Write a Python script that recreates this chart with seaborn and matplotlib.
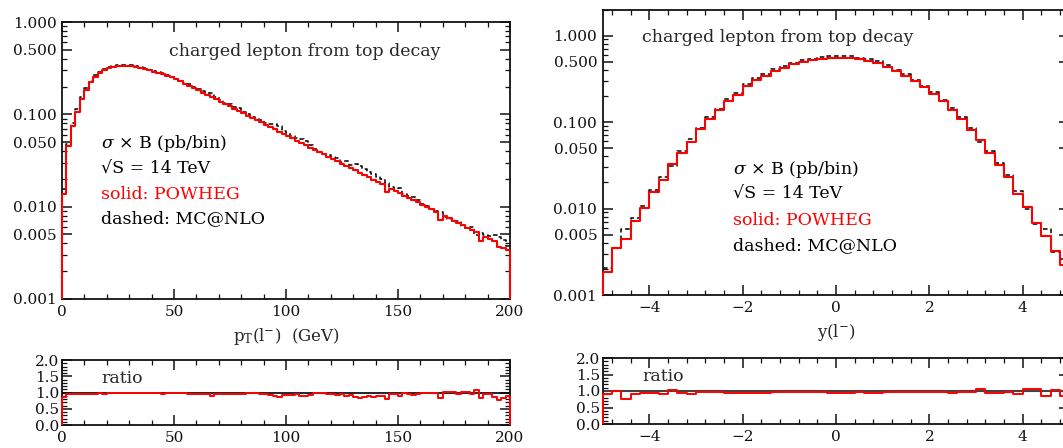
import numpy as np
import pandas as pd
import matplotlib
matplotlib.use("Agg")
import matplotlib.pyplot as plt
import seaborn as sns
from matplotlib.ticker import FixedLocator, FixedFormatter, MultipleLocator, LogLocator, NullFormatter

# ---------------- data ----------------
pt_edges = list(range(0, 202, 2))          # 100 bins of 2 GeV
pt_powheg = [0.0137, 0.0457, 0.0748, 0.107, 0.147, 0.184, 0.222, 0.256, 0.280, 0.300,
             0.315, 0.326, 0.333, 0.336, 0.336, 0.333, 0.324, 0.316, 0.308, 0.299,
             0.290, 0.281, 0.272, 0.262, 0.251, 0.242, 0.228, 0.215, 0.204, 0.192,
             0.182, 0.171, 0.162, 0.153, 0.145, 0.136, 0.129, 0.122, 0.115, 0.109,
             0.103, 0.0970, 0.0916, 0.0865, 0.0817, 0.0771, 0.0729, 0.0689, 0.0650, 0.0614,
             0.0581, 0.0548, 0.0518, 0.0489, 0.0462, 0.0437, 0.0412, 0.0389, 0.0368, 0.0348,
             0.0328, 0.0310, 0.0293, 0.0277, 0.0261, 0.0247, 0.0233, 0.0220, 0.0208, 0.0196,
             0.0186, 0.0175, 0.0145, 0.0156, 0.0148, 0.0140, 0.0132, 0.0125, 0.0118, 0.0111,
             0.0105, 0.00991, 0.00937, 0.00885, 0.00720, 0.00789, 0.00746, 0.00705, 0.00665, 0.00629,
             0.00594, 0.00561, 0.00530, 0.00430, 0.00473, 0.00447, 0.00422, 0.00370, 0.00360, 0.00340]
pt_mcnlo = [0.0157, 0.0481, 0.0796, 0.113, 0.155, 0.192, 0.231, 0.267, 0.289, 0.313,
            0.325, 0.336, 0.343, 0.346, 0.346, 0.343, 0.331, 0.322, 0.314, 0.305,
            0.293, 0.287, 0.283, 0.270, 0.256, 0.244, 0.230, 0.217, 0.213, 0.200,
            0.190, 0.178, 0.171, 0.170, 0.154, 0.142, 0.134, 0.128, 0.120, 0.116,
            0.107, 0.100, 0.0925, 0.0883, 0.0860, 0.0812, 0.0784, 0.0783, 0.0747, 0.0667,
            0.0625, 0.0589, 0.0551, 0.0543, 0.0513, 0.0470, 0.0425, 0.0393, 0.0376, 0.0363,
            0.0349, 0.0333, 0.0308, 0.0311, 0.0284, 0.0287, 0.0277, 0.0253, 0.0236, 0.0225,
            0.0207, 0.0199, 0.0181, 0.0163, 0.0154, 0.0159, 0.0136, 0.0130, 0.0127, 0.0117,
            0.0106, 0.0101, 0.00946, 0.00894, 0.00880, 0.00766, 0.00731, 0.00684, 0.00693, 0.00623,
            0.00582, 0.00597, 0.00495, 0.00524, 0.00498, 0.00476, 0.00496, 0.00474, 0.00439, 0.00378]
pt_ratio = [0.87, 0.95, 0.94, 0.95, 0.95, 0.96, 0.96, 0.96, 0.97, 0.96,
            0.97, 0.97, 0.97, 0.97, 0.97, 0.97, 0.98, 0.98, 0.98, 0.98,
            0.99, 0.98, 0.96, 0.97, 0.98, 0.99, 0.99, 0.99, 0.96, 0.96,
            0.96, 0.96, 0.95, 0.90, 0.94, 0.96, 0.96, 0.95, 0.96, 0.94,
            0.96, 0.97, 0.99, 0.98, 0.95, 0.95, 0.93, 0.88, 0.87, 0.92,
            0.93, 0.93, 0.94, 0.90, 0.90, 0.93, 0.97, 0.99, 0.98, 0.96,
            0.94, 0.93, 0.95, 0.89, 0.92, 0.86, 0.84, 0.87, 0.88, 0.87,
            0.90, 0.88, 0.80, 0.96, 0.96, 0.88, 0.97, 0.96, 0.93, 0.95,
            0.99, 0.98, 0.99, 0.99, 0.82, 1.03, 1.02, 1.03, 0.96, 1.01,
            1.02, 0.94, 1.07, 0.82, 0.95, 0.94, 0.85, 0.78, 0.82, 0.90]

y_edges = [round(-5.0 + 0.2 * i, 1) for i in range(51)]   # 50 bins of 0.2
y_powheg = [0.00186, 0.00348, 0.00446, 0.00720, 0.0101, 0.0154, 0.0211, 0.0327, 0.0438, 0.0586,
            0.0830, 0.108, 0.136, 0.175, 0.207, 0.261, 0.303, 0.344, 0.390, 0.423,
            0.466, 0.495, 0.522, 0.542, 0.546, 0.546, 0.544, 0.530, 0.509, 0.483,
            0.434, 0.386, 0.344, 0.299, 0.255, 0.213, 0.175, 0.136, 0.108, 0.0815,
            0.0624, 0.0438, 0.0315, 0.0231, 0.0148, 0.0105, 0.00688, 0.00483, 0.00326, 0.00222]
y_mcnlo = [0.00207, 0.00348, 0.00587, 0.00783, 0.0106, 0.0164, 0.0232, 0.0314, 0.0461, 0.0644,
           0.0847, 0.113, 0.142, 0.184, 0.218, 0.275, 0.326, 0.362, 0.406, 0.441,
           0.485, 0.516, 0.538, 0.565, 0.575, 0.575, 0.573, 0.552, 0.536, 0.508,
           0.452, 0.402, 0.358, 0.308, 0.263, 0.220, 0.182, 0.146, 0.113, 0.0849,
           0.0594, 0.0461, 0.0339, 0.0241, 0.0161, 0.0100, 0.00655, 0.00575, 0.00317, 0.00264]
y_ratio = [0.90, 1.00, 0.76, 0.92, 0.95, 0.94, 0.91, 1.04, 0.95, 0.91,
           0.98, 0.96, 0.96, 0.95, 0.95, 0.95, 0.93, 0.95, 0.96, 0.96,
           0.96, 0.96, 0.97, 0.96, 0.95, 0.95, 0.95, 0.96, 0.95, 0.95,
           0.96, 0.96, 0.96, 0.97, 0.97, 0.97, 0.96, 0.93, 0.96, 0.96,
           1.05, 0.95, 0.93, 0.96, 0.92, 1.05, 1.05, 0.84, 1.03, 0.84]

log_ticks = [0.001, 0.005, 0.010, 0.050, 0.100, 0.500, 1.000]
log_labels = ["0.001", "0.005", "0.010", "0.050", "0.100", "0.500", "1.000"]
ratio_ticks = [0.0, 0.5, 1.0, 1.5, 2.0]
ratio_labels = ["0.0", "0.5", "1.0", "1.5", "2.0"]
pt_xticks = [0, 50, 100, 150, 200]
y_xticks = [-4, -2, 0, 2, 4]
y_xlabels = ["\u22124", "\u22122", "0", "2", "4"]

# ---------------- style ----------------
sns.set_theme(style="ticks")
plt.rcParams["font.family"] = ["DejaVu Serif"]
plt.rcParams["mathtext.fontset"] = "dejavuserif"
plt.rcParams["axes.linewidth"] = 1.3
plt.rcParams["axes.edgecolor"] = "#111111"

W, H = 1063, 448
fig = plt.figure(figsize=(W / 100, H / 100), dpi=100)

def frac(x0, y0, x1, y1):
    return [x0 / W, 1 - y1 / H, (x1 - x0) / W, (y1 - y0) / H]

ax1 = fig.add_axes(frac(62, 22, 510, 299))
ax1r = fig.add_axes(frac(62, 360, 510, 425))
ax2 = fig.add_axes(frac(602.7, 9.5, 1069.3, 295))
ax2r = fig.add_axes(frac(602.7, 358, 1069.3, 424))

FS = 11
TFS = 12.5
dash = (0, (3, 2))

def steps(ax, edges, vals, color, ls, lw, z, base=None):
    centers = [(a + b) / 2 for a, b in zip(edges[:-1], edges[1:])]
    df = pd.DataFrame({"c": centers, "w": vals})
    sns.histplot(data=df, x="c", weights="w", bins=edges, element="step", fill=False,
                 color=color, linestyle=ls, linewidth=lw, ax=ax, zorder=z)
    if base is not None:
        ax.vlines([edges[0], edges[-1]], base, [vals[0], vals[-1]], color=color,
                  linewidth=lw, zorder=z, clip_on=False)

def style_main(ax):
    ax.set_yscale("log")
    ax.yaxis.set_major_locator(FixedLocator(log_ticks))
    ax.yaxis.set_major_formatter(FixedFormatter(log_labels))
    ax.yaxis.set_minor_locator(LogLocator(base=10, subs=np.arange(2, 10)))
    ax.yaxis.set_minor_formatter(NullFormatter())

def style_common(ax):
    ax.tick_params(which="both", direction="in", top=True, right=True,
                   labelsize=FS, colors="#111111")
    ax.tick_params(which="major", length=7, width=1.1, pad=4)
    ax.tick_params(which="minor", length=3.5, width=0.9)
    ax.set_xlabel("")
    ax.set_ylabel("")

txt_kw = dict(fontsize=TFS)

def label_block(x_px, y_list):
    lines = [(r"$\sigma$ $\times$ B (pb/bin)", "black"), ("\u221aS = 14 TeV", "black"),
             ("solid: POWHEG", "red"), ("dashed: MC@NLO", "black")]
    for (t, c), yp in zip(lines, y_list):
        fig.text(x_px / W, 1 - yp / H, t, color=c, va="center", ha="left", **txt_kw)

# ---- left main ----
style_main(ax1)
steps(ax1, pt_edges, pt_mcnlo, "black", dash, 1.1, 2)
steps(ax1, pt_edges, pt_powheg, "red", "-", 1.5, 3, base=0.001)
ax1.set_xlim(0, 200)
ax1.set_ylim(0.001, 1.0)
ax1.xaxis.set_major_locator(FixedLocator(pt_xticks))
ax1.xaxis.set_minor_locator(MultipleLocator(10))
style_common(ax1)
ax1.set_xlabel(r"p$_{\rm T}$(l$^{-}$)  (GeV)", fontsize=12, labelpad=5)
fig.text(169 / W, 1 - 52 / H, "charged lepton from top decay", va="center", ha="left", **txt_kw)
label_block(101, [144, 169, 194, 219])

# ---- left ratio ----
steps(ax1r, pt_edges, pt_ratio, "red", "-", 1.4, 3, base=0.0)
ax1r.axhline(1.0, color="black", linewidth=1.2, zorder=2.5)
ax1r.set_xlim(0, 200)
ax1r.set_ylim(0, 2)
ax1r.xaxis.set_major_locator(FixedLocator(pt_xticks))
ax1r.xaxis.set_minor_locator(MultipleLocator(10))
ax1r.yaxis.set_major_locator(FixedLocator(ratio_ticks))
ax1r.yaxis.set_major_formatter(FixedFormatter(ratio_labels))
ax1r.yaxis.set_minor_locator(MultipleLocator(0.1))
style_common(ax1r)
ax1r.tick_params(axis="y", pad=2)
fig.text(101 / W, 1 - 378 / H, "ratio", va="center", ha="left", **txt_kw)

# ---- right main ----
style_main(ax2)
steps(ax2, y_edges, y_mcnlo, "black", dash, 1.1, 2)
steps(ax2, y_edges, y_powheg, "red", "-", 1.5, 3, base=0.001)
ax2.set_xlim(-5, 5)
ax2.set_ylim(0.001, 2.0)
ax2.xaxis.set_major_locator(FixedLocator(y_xticks))
ax2.xaxis.set_major_formatter(FixedFormatter(y_xlabels))
ax2.xaxis.set_minor_locator(MultipleLocator(0.4))
style_common(ax2)
ax2.set_xlabel(r"y(l$^{-}$)", fontsize=12, labelpad=5)
fig.text(642 / W, 1 - 37 / H, "charged lepton from top decay", va="center", ha="left", **txt_kw)
label_block(733, [169, 194, 220, 246])

# ---- right ratio ----
steps(ax2r, y_edges, y_ratio, "red", "-", 1.4, 3, base=0.0)
ax2r.axhline(1.0, color="#444444", linewidth=1.5, zorder=2.5)
ax2r.set_xlim(-5, 5)
ax2r.set_ylim(0, 2)
ax2r.xaxis.set_major_locator(FixedLocator(y_xticks))
ax2r.xaxis.set_major_formatter(FixedFormatter(y_xlabels))
ax2r.xaxis.set_minor_locator(MultipleLocator(0.4))
ax2r.yaxis.set_major_locator(FixedLocator(ratio_ticks))
ax2r.yaxis.set_major_formatter(FixedFormatter(ratio_labels))
ax2r.yaxis.set_minor_locator(MultipleLocator(0.1))
style_common(ax2r)
ax2r.tick_params(axis="y", pad=2)
fig.text(642 / W, 1 - 376 / H, "ratio", va="center", ha="left", **txt_kw)

fig.savefig("out.png", dpi=100)
